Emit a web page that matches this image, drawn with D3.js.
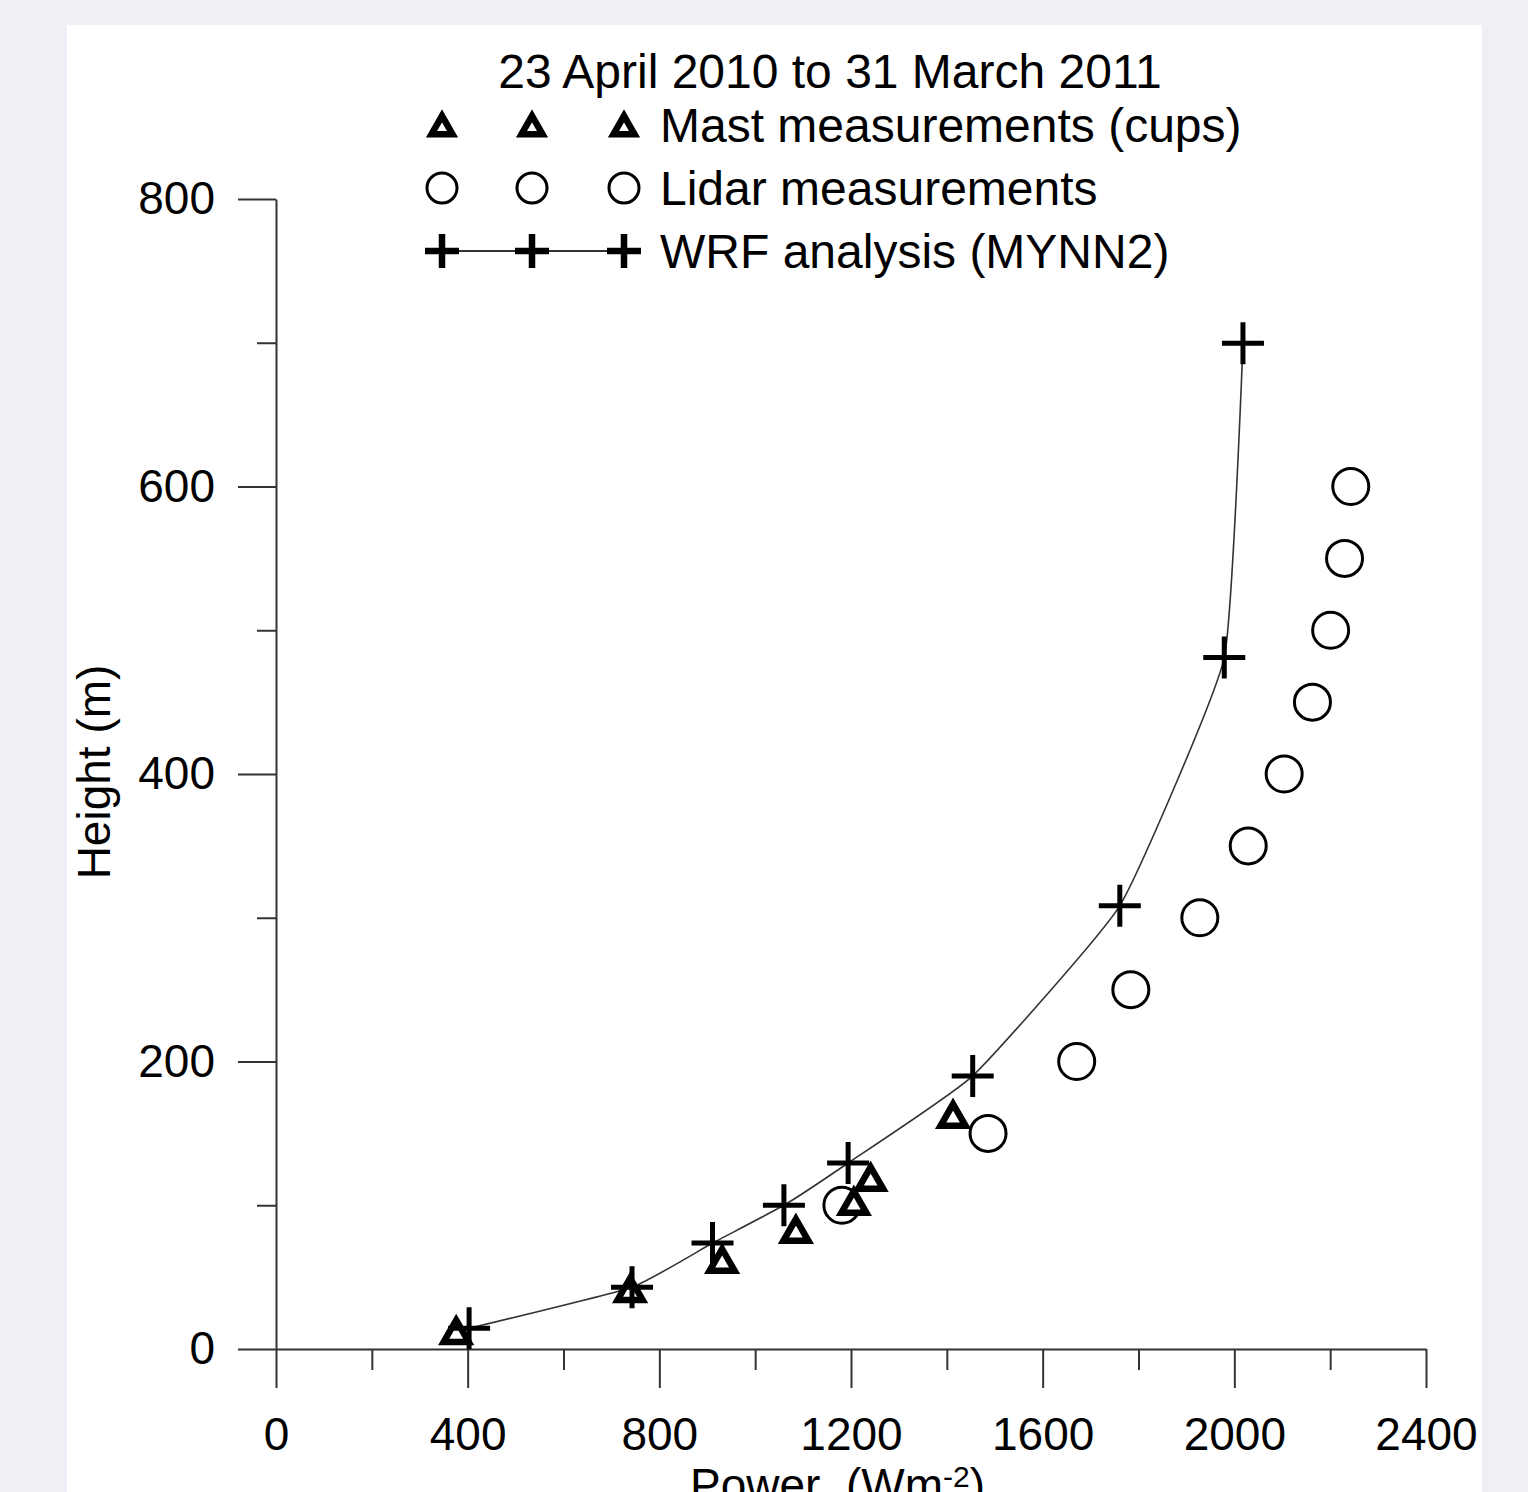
<!DOCTYPE html>
<html>
<head>
<meta charset="utf-8">
<script src="https://cdn.jsdelivr.net/npm/d3@7"></script>
<style>
  body { margin: 0; background: #eef0f5; }
  svg { display: block; }
</style>
</head>
<body>
<div id="chart"></div>
<script>
// profile data
const wrfPower    = [403, 743, 911, 1060, 1194, 1454, 1761, 1979, 2018];
const wrfHeight   = [14.4, 43, 73.7, 100, 129.4, 190, 308.4, 481, 699.6];
const mastPower   = [376, 739, 931, 1085, 1206, 1241, 1413];
const mastHeight  = [12.5, 41.7, 62, 82.8, 102.3, 119, 162.8];
const lidarPower  = [1181, 1486, 1671, 1784, 1928, 2029, 2104, 2163, 2201, 2230, 2243];
const lidarHeight = [100, 150, 200, 250, 300, 350, 400, 450, 500, 550, 600];

const xTicks = [0, 400, 800, 1200, 1600, 2000, 2400];
const xMinor = [200, 600, 1000, 1400, 1800, 2200];
const yTicks = [0, 200, 400, 600, 800];
const yMinor = [100, 300, 500, 700];

const legendItems = ["Mast measurements (cups)", "Lidar measurements", "WRF analysis (MYNN2)"];
const title = "23 April 2010 to 31 March 2011";

const W = 1528, H = 1492;
const font = "'Liberation Sans', Arial, sans-serif";
const axisColor = "#333";

const svg = d3.select("#chart").append("svg")
  .attr("width", W)
  .attr("height", H);

svg.append("rect").attr("width", W).attr("height", H).attr("fill", "#eef0f5");
svg.append("rect").attr("x", 67).attr("y", 25).attr("width", 1415).attr("height", H)
  .attr("fill", "#fff");

const x = d3.scaleLinear().domain([0, 2400]).range([276, 1426]);
const y = d3.scaleLinear().domain([0, 800]).range([1349, 199]);

// minor ticks first, then the labelled axes
svg.append("g")
  .attr("transform", `translate(0,${y(0)})`)
  .call(d3.axisBottom(x).tickValues(xMinor).tickSize(21).tickFormat("").tickSizeOuter(0))
  .call(g => g.select(".domain").remove())
  .call(g => g.selectAll("line").attr("stroke", axisColor).attr("stroke-width", 2));

svg.append("g")
  .attr("transform", `translate(${x(0)},0)`)
  .call(d3.axisLeft(y).tickValues(yMinor).tickSize(19).tickFormat("").tickSizeOuter(0))
  .call(g => g.select(".domain").remove())
  .call(g => g.selectAll("line").attr("stroke", axisColor).attr("stroke-width", 2));

const xAxis = svg.append("g")
  .attr("transform", `translate(0,${y(0)})`)
  .call(d3.axisBottom(x).tickValues(xTicks).tickFormat(d3.format("d"))
    .tickSize(39).tickPadding(29).tickSizeOuter(0));

const yAxis = svg.append("g")
  .attr("transform", `translate(${x(0)},0)`)
  .call(d3.axisLeft(y).tickValues(yTicks).tickFormat(d3.format("d"))
    .tickSize(38).tickPadding(23).tickSizeOuter(0));

[xAxis, yAxis].forEach(g => {
  g.select(".domain").attr("stroke", axisColor).attr("stroke-width", 2);
  g.selectAll("line").attr("stroke", axisColor).attr("stroke-width", 2);
  g.selectAll("text")
    .attr("fill", "#000")
    .style("font-family", font)
    .style("font-size", "46px");
});

// axis titles
svg.append("text")
  .attr("transform", "translate(110,772) rotate(-90)")
  .attr("text-anchor", "middle")
  .style("font-family", font)
  .style("font-size", "46px")
  .text("Height (m)");

const xl = svg.append("text")
  .attr("x", 690).attr("y", 1501)
  .style("font-family", font)
  .style("font-size", "46px")
  .style("white-space", "pre");
xl.append("tspan").text("Power  (Wm");
xl.append("tspan").attr("dy", -14).style("font-size", "30px").text("-2");
xl.append("tspan").attr("dy", 14).text(")");

// marker shapes
function triangle(sel, cx, cy, s, w) {
  const h = s * 0.87;
  sel.append("path")
    .attr("d", `M${cx},${cy - h / 2}L${cx + s / 2},${cy + h / 2}L${cx - s / 2},${cy + h / 2}Z`)
    .attr("fill", "#fff")
    .attr("stroke", "#000")
    .attr("stroke-width", w)
    .attr("stroke-linejoin", "miter");
}
function circle(sel, cx, cy, r) {
  sel.append("circle")
    .attr("cx", cx).attr("cy", cy).attr("r", r)
    .attr("fill", "none")
    .attr("stroke", "#000")
    .attr("stroke-width", 3);
}
function plus(sel, cx, cy, s, w) {
  sel.append("path")
    .attr("d", `M${cx - s / 2},${cy}H${cx + s / 2}M${cx},${cy - s / 2}V${cy + s / 2}`)
    .attr("stroke", "#000")
    .attr("stroke-width", w);
}

const wrf = wrfPower.map((p, i) => ({ p, h: wrfHeight[i] }));
const mast = mastPower.map((p, i) => ({ p, h: mastHeight[i] }));
const lidar = lidarPower.map((p, i) => ({ p, h: lidarHeight[i] }));

const line = d3.line()
  .x(d => x(d.p))
  .y(d => y(d.h))
  .curve(d3.curveCardinal.tension(0.6));

svg.append("path")
  .datum(wrf)
  .attr("d", line)
  .attr("fill", "none")
  .attr("stroke", "#333")
  .attr("stroke-width", 1.6);

const marks = svg.append("g");
lidar.forEach(d => circle(marks, x(d.p), y(d.h), 18));
mast.forEach(d => triangle(marks, x(d.p), y(d.h), 25, 6.5));
wrf.forEach(d => plus(marks, x(d.p), y(d.h), 42, 5));

// title and legend
svg.append("text")
  .attr("x", 830).attr("y", 88)
  .attr("text-anchor", "middle")
  .style("font-family", font)
  .style("font-size", "48px")
  .text(title);

const legendX = [442, 532, 624];
const legendY = [125, 188, 251];
const lg = svg.append("g");

lg.append("line")
  .attr("x1", legendX[0]).attr("x2", legendX[2])
  .attr("y1", legendY[2]).attr("y2", legendY[2])
  .attr("stroke", "#333").attr("stroke-width", 2);

legendX.forEach(lx => {
  triangle(lg, lx, legendY[0], 21, 6.5);
  circle(lg, lx, legendY[1], 15);
  plus(lg, lx, legendY[2], 34, 6.5);
});

legendItems.forEach((t, i) => {
  lg.append("text")
    .attr("x", 660).attr("y", legendY[i] + 17)
    .style("font-family", font)
    .style("font-size", "48px")
    .text(t);
});
</script>
</body>
</html>
